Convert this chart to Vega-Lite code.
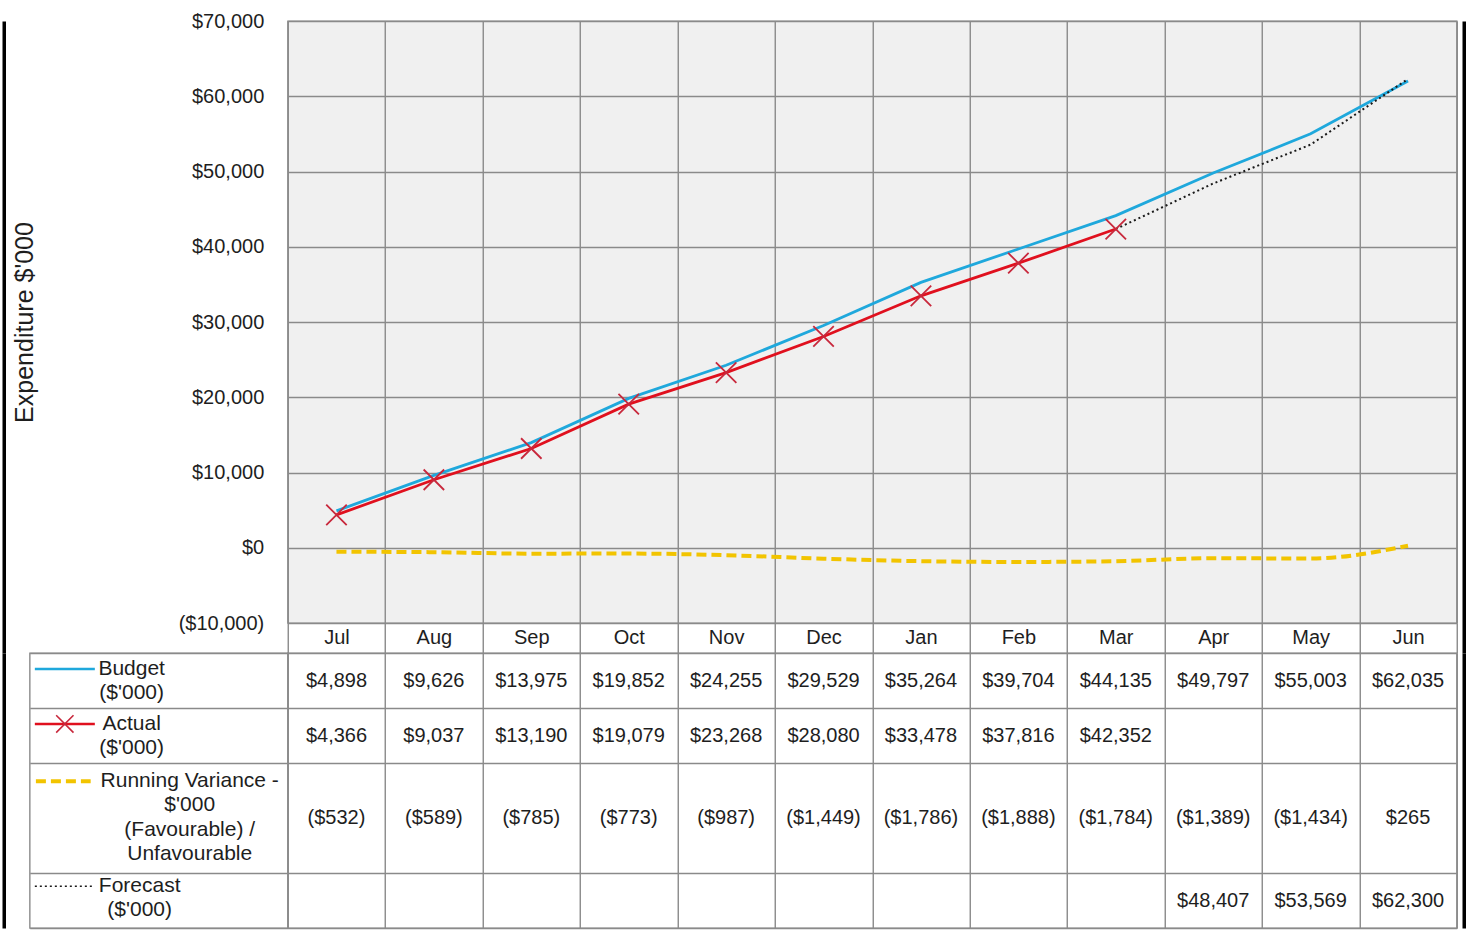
{
  "$schema": "https://vega.github.io/schema/vega-lite/v6.json",
  "autosize": {"type": "pad"},
  "padding": {"left": 3.75, "top": 10, "right": 2.5, "bottom": 4},
  "background": "white",
  "config": {
    "font": "Liberation Sans",
    "view": {"stroke": null},
    "axis": {
      "labelColor": "#1e1e1e",
      "titleColor": "#1e1e1e",
      "gridColor": "#8a8a8a",
      "gridWidth": 1.4,
      "tickColor": "#8a8a8a",
      "tickWidth": 1.4,
      "labelFontSize": 20,
      "domain": false
    }
  },
  "datasets": {
    "series": [
      {"month": "Jul", "series": "Budget", "value": 4898},
      {"month": "Aug", "series": "Budget", "value": 9626},
      {"month": "Sep", "series": "Budget", "value": 13975},
      {"month": "Oct", "series": "Budget", "value": 19852},
      {"month": "Nov", "series": "Budget", "value": 24255},
      {"month": "Dec", "series": "Budget", "value": 29529},
      {"month": "Jan", "series": "Budget", "value": 35264},
      {"month": "Feb", "series": "Budget", "value": 39704},
      {"month": "Mar", "series": "Budget", "value": 44135},
      {"month": "Apr", "series": "Budget", "value": 49797},
      {"month": "May", "series": "Budget", "value": 55003},
      {"month": "Jun", "series": "Budget", "value": 62035},
      {"month": "Jul", "series": "Actual", "value": 4366},
      {"month": "Aug", "series": "Actual", "value": 9037},
      {"month": "Sep", "series": "Actual", "value": 13190},
      {"month": "Oct", "series": "Actual", "value": 19079},
      {"month": "Nov", "series": "Actual", "value": 23268},
      {"month": "Dec", "series": "Actual", "value": 28080},
      {"month": "Jan", "series": "Actual", "value": 33478},
      {"month": "Feb", "series": "Actual", "value": 37816},
      {"month": "Mar", "series": "Actual", "value": 42352},
      {"month": "Jul", "series": "Running Variance", "value": -532},
      {"month": "Aug", "series": "Running Variance", "value": -589},
      {"month": "Sep", "series": "Running Variance", "value": -785},
      {"month": "Oct", "series": "Running Variance", "value": -773},
      {"month": "Nov", "series": "Running Variance", "value": -987},
      {"month": "Dec", "series": "Running Variance", "value": -1449},
      {"month": "Jan", "series": "Running Variance", "value": -1786},
      {"month": "Feb", "series": "Running Variance", "value": -1888},
      {"month": "Mar", "series": "Running Variance", "value": -1784},
      {"month": "Apr", "series": "Running Variance", "value": -1389},
      {"month": "May", "series": "Running Variance", "value": -1434},
      {"month": "Jun", "series": "Running Variance", "value": 265},
      {"month": "Mar", "series": "Forecast", "value": 42352},
      {"month": "Apr", "series": "Forecast", "value": 48407},
      {"month": "May", "series": "Forecast", "value": 53569},
      {"month": "Jun", "series": "Forecast", "value": 62300}
    ],
    "legend": [
      {"series": "Budget", "label": "Budget\n($'000)"},
      {"series": "Actual", "label": "Actual\n($'000)"},
      {"series": "Running Variance", "label": "Running Variance -\n$'000\n(Favourable) /\nUnfavourable"},
      {"series": "Forecast", "label": "Forecast\n($'000)"}
    ]
  },
  "columns": 4,
  "spacing": {"row": 0, "column": 0},
  "bounds": "flush",
  "align": "each",
  "concat": [
    {
      "width": 26,
      "height": 632,
      "data": {"values": []},
      "mark": {"type": "point", "opacity": 0},
      "encoding": {
        "y": {"datum": 0, "type": "quantitative", "scale": {"domain": [0, 1]}, "axis": {"title": null, "labels": false, "ticks": false, "grid": false, "domain": true, "domainColor": "#000000", "domainWidth": 3.5}}
      }
    },
    {
      "width": 258,
      "height": 632,
      "data": {"values": []},
      "mark": {"type": "rect", "opacity": 0},
      "encoding": {}
    },
    {
      "width": 1169,
      "height": 602,
      "view": {"fill": "#f0f0f0", "stroke": "#8a8a8a", "strokeWidth": 1.4},
      "data": {"name": "series"},
      "encoding": {
        "x": {
          "field": "month",
          "type": "nominal",
          "scale": {"type": "band", "paddingInner": 0, "paddingOuter": 0, "domain": ["Jul","Aug","Sep","Oct","Nov","Dec","Jan","Feb","Mar","Apr","May","Jun"]},
          "axis": {"title": null, "tickBand": "extent", "grid": true, "ticks": true, "tickSize": 30, "labelPadding": -16, "labelBaseline": "middle", "labelAngle": 0, "labelFontSize": 20}
        },
        "y": {
          "field": "value",
          "type": "quantitative",
          "scale": {"domain": [-10000, 70000], "nice": false, "zero": false},
          "axis": {
            "values": [-10000, 0, 10000, 20000, 30000, 40000, 50000, 60000, 70000],
            "format": "($,.0f",
            "grid": true,
            "ticks": false,
            "labelPadding": 24,
            "labelFontSize": 20,
            "title": "Expenditure $'000",
            "titleFontSize": 25,
            "titleFontWeight": "normal",
            "titlePadding": 141
          }
        }
      },
      "layer": [
        {
          "transform": [{"filter": "datum.series === 'Running Variance'"}],
          "mark": {"type": "line", "color": "#f2c400", "strokeWidth": 4, "strokeDash": [10, 5], "interpolate": "monotone"}
        },
        {
          "transform": [{"filter": "datum.series === 'Budget'"}],
          "mark": {"type": "line", "color": "#1fa8dc", "strokeWidth": 2.8}
        },
        {
          "transform": [{"filter": "datum.series === 'Forecast'"}],
          "mark": {"type": "line", "color": "#1a1a1a", "strokeWidth": 2, "strokeDash": [2, 3]}
        },
        {
          "transform": [{"filter": "datum.series === 'Actual'"}],
          "mark": {"type": "line", "color": "#e0101e", "strokeWidth": 2.8}
        },
        {
          "transform": [{"filter": "datum.series === 'Actual'"}],
          "mark": {"type": "point", "shape": "M-1,-1L1,1M-1,1L1,-1", "size": 420, "filled": false, "color": "#c8283c", "strokeWidth": 1.8, "opacity": 1}
        }
      ]
    },
    {
      "width": 7,
      "height": 632,
      "data": {"values": []},
      "mark": {"type": "point", "opacity": 0},
      "encoding": {
        "y": {"datum": 0, "type": "quantitative", "scale": {"domain": [0, 1]}, "axis": {"orient": "right", "title": null, "labels": false, "ticks": false, "grid": false, "domain": true, "domainColor": "#000000", "domainWidth": 3.5}}
      }
    },
    {
      "width": 26,
      "height": 275,
      "data": {"values": []},
      "mark": {"type": "point", "opacity": 0},
      "encoding": {
        "y": {"datum": 0, "type": "quantitative", "scale": {"domain": [0, 1]}, "axis": {"title": null, "labels": false, "ticks": false, "grid": false, "domain": true, "domainColor": "#000000", "domainWidth": 3.5}}
      }
    },
    {
      "width": 258,
      "height": 275,
      "view": {"fill": "white", "stroke": "#8a8a8a", "strokeWidth": 1.4},
      "data": {"name": "legend"},
      "layer": [
        {
          "transform": [{"filter": "datum.series === 'Budget'"}],
          "mark": {"type": "point", "shape": "stroke", "size": 3600, "filled": false, "color": "#1fa8dc", "strokeWidth": 2.5, "opacity": 1},
          "encoding": {
            "x": {"datum": 0.136, "type": "quantitative", "scale": {"domain": [0, 1], "nice": false, "zero": false}, "axis": null},
            "y": {
              "field": "series",
              "type": "nominal",
              "bandPosition": 0.29,
              "scale": {"type": "band", "paddingInner": 0, "paddingOuter": 0, "domain": ["Budget", "Actual", "Running Variance", "RV2", "Forecast"]},
              "axis": {"title": null, "labels": false, "ticks": false, "grid": true, "tickBand": "extent", "gridOpacity": {"condition": {"test": "datum.value === 'Running Variance'", "value": 0}, "value": 1}}
            }
          }
        },
        {
          "transform": [{"filter": "datum.series === 'Actual'"}],
          "mark": {"type": "point", "shape": "stroke", "size": 3600, "filled": false, "color": "#e0101e", "strokeWidth": 2.5, "opacity": 1},
          "encoding": {
            "x": {"datum": 0.136, "type": "quantitative"},
            "y": {"field": "series", "type": "nominal", "bandPosition": 0.29}
          }
        },
        {
          "transform": [{"filter": "datum.series === 'Actual'"}],
          "mark": {"type": "point", "shape": "M-1,-1L1,1M-1,1L1,-1", "size": 300, "filled": false, "color": "#c8283c", "strokeWidth": 1.6, "opacity": 1},
          "encoding": {
            "x": {"datum": 0.136, "type": "quantitative"},
            "y": {"field": "series", "type": "nominal", "bandPosition": 0.29}
          }
        },
        {
          "transform": [{"filter": "datum.series === 'Running Variance'"}],
          "mark": {"type": "point", "shape": "stroke", "size": 3000, "filled": false, "color": "#f2c400", "strokeWidth": 4, "strokeDash": [10, 5], "opacity": 1},
          "encoding": {
            "x": {"datum": 0.13, "type": "quantitative"},
            "y": {"field": "series", "type": "nominal", "bandPosition": 0.33}
          }
        },
        {
          "transform": [{"filter": "datum.series === 'Forecast'"}],
          "mark": {"type": "point", "shape": "stroke", "size": 3600, "filled": false, "color": "#1a1a1a", "strokeWidth": 1.6, "strokeDash": [2, 3], "opacity": 1},
          "encoding": {
            "x": {"datum": 0.136, "type": "quantitative"},
            "y": {"field": "series", "type": "nominal", "bandPosition": 0.24}
          }
        },
        {
          "transform": [{"filter": "datum.series === 'Budget' || datum.series === 'Actual'"}],
          "mark": {"type": "text", "lineBreak": "\n", "align": "center", "baseline": "middle", "fontSize": 21, "lineHeight": 24, "color": "#1e1e1e"},
          "encoding": {
            "x": {"datum": 0.395, "type": "quantitative"},
            "y": {"field": "series", "type": "nominal", "bandPosition": 0.29},
            "text": {"field": "label"}
          }
        },
        {
          "transform": [{"filter": "datum.series === 'Forecast'"}],
          "mark": {"type": "text", "lineBreak": "\n", "align": "center", "baseline": "middle", "fontSize": 21, "lineHeight": 24, "color": "#1e1e1e"},
          "encoding": {
            "x": {"datum": 0.426, "type": "quantitative"},
            "y": {"field": "series", "type": "nominal", "bandPosition": 0.24},
            "text": {"field": "label"}
          }
        },
        {
          "transform": [{"filter": "datum.series === 'Running Variance'"}],
          "mark": {"type": "text", "lineBreak": "\n", "align": "center", "baseline": "middle", "fontSize": 21, "lineHeight": 24.3, "color": "#1e1e1e"},
          "encoding": {
            "x": {"datum": 0.62, "type": "quantitative"},
            "y": {"field": "series", "type": "nominal", "bandPosition": 0.33},
            "text": {"field": "label"}
          }
        }
      ]
    },
    {
      "width": 1169,
      "height": 275,
      "view": {"fill": "white", "stroke": "#8a8a8a", "strokeWidth": 1.4},
      "data": {"name": "series"},
      "transform": [{"filter": "!(datum.series === 'Forecast' && datum.month === 'Mar')"}],
      "layer": [
        {
          "transform": [{"filter": "datum.series !== 'Running Variance'"}],
          "mark": {"type": "text", "fontSize": 20, "color": "#1e1e1e", "baseline": "middle"},
          "encoding": {
            "x": {
              "field": "month",
              "type": "nominal",
              "scale": {"type": "band", "paddingInner": 0, "paddingOuter": 0, "domain": ["Jul","Aug","Sep","Oct","Nov","Dec","Jan","Feb","Mar","Apr","May","Jun"]},
              "axis": {"title": null, "labels": false, "ticks": false, "grid": true, "tickBand": "extent"}
            },
            "y": {
              "field": "series",
              "type": "nominal",
              "scale": {"type": "band", "paddingInner": 0, "paddingOuter": 0, "domain": ["Budget", "Actual", "Running Variance", "RV2", "Forecast"]},
              "axis": {"title": null, "labels": false, "ticks": false, "grid": true, "tickBand": "extent", "gridOpacity": {"condition": {"test": "datum.value === 'Running Variance'", "value": 0}, "value": 1}}
            },
            "text": {"field": "value", "type": "quantitative", "format": "($,.0f"}
          }
        },
        {
          "transform": [{"filter": "datum.series === 'Running Variance'"}],
          "mark": {"type": "text", "fontSize": 20, "color": "#1e1e1e", "baseline": "middle"},
          "encoding": {
            "x": {"field": "month", "type": "nominal"},
            "y": {"field": "series", "type": "nominal", "bandPosition": 1},
            "text": {"field": "value", "type": "quantitative", "format": "($,.0f"}
          }
        }
      ]
    },
    {
      "width": 7,
      "height": 275,
      "data": {"values": []},
      "mark": {"type": "point", "opacity": 0},
      "encoding": {
        "y": {"datum": 0, "type": "quantitative", "scale": {"domain": [0, 1]}, "axis": {"orient": "right", "title": null, "labels": false, "ticks": false, "grid": false, "domain": true, "domainColor": "#000000", "domainWidth": 3.5}}
      }
    }
  ]
}
